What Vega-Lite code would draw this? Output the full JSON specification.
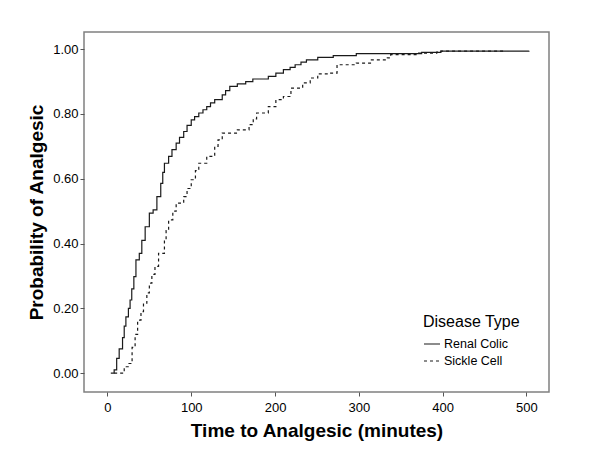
{
  "$schema": "https://vega.github.io/schema/vega-lite/v6.json",
  "width": 465,
  "height": 360,
  "autosize": {"type": "none"},
  "padding": {"left": 84, "top": 32, "right": 52, "bottom": 68},
  "background": "white",
  "config": {
    "font": "Liberation Sans",
    "view": {"stroke": "#808080", "strokeWidth": 1.5},
    "axis": {"domain": false, "grid": false, "tickColor": "#555", "tickSize": 4, "labelColor": "#000", "labelFontSize": 13, "titleColor": "#000", "titleFontSize": 19, "titleFontWeight": "bold"}
  },
  "data": {
    "values": [
      {"t": 4, "p": 0.0, "g": "Renal Colic"},
      {"t": 8, "p": 0.01, "g": "Renal Colic"},
      {"t": 11, "p": 0.046, "g": "Renal Colic"},
      {"t": 14, "p": 0.075, "g": "Renal Colic"},
      {"t": 18, "p": 0.11, "g": "Renal Colic"},
      {"t": 20, "p": 0.145, "g": "Renal Colic"},
      {"t": 22, "p": 0.174, "g": "Renal Colic"},
      {"t": 25, "p": 0.2, "g": "Renal Colic"},
      {"t": 27, "p": 0.226, "g": "Renal Colic"},
      {"t": 29, "p": 0.26, "g": "Renal Colic"},
      {"t": 31.5, "p": 0.298, "g": "Renal Colic"},
      {"t": 34, "p": 0.35, "g": "Renal Colic"},
      {"t": 38, "p": 0.37, "g": "Renal Colic"},
      {"t": 41, "p": 0.41, "g": "Renal Colic"},
      {"t": 45, "p": 0.452, "g": "Renal Colic"},
      {"t": 50, "p": 0.494, "g": "Renal Colic"},
      {"t": 54.5, "p": 0.504, "g": "Renal Colic"},
      {"t": 59, "p": 0.545, "g": "Renal Colic"},
      {"t": 63.6, "p": 0.586, "g": "Renal Colic"},
      {"t": 66, "p": 0.62, "g": "Renal Colic"},
      {"t": 68, "p": 0.648, "g": "Renal Colic"},
      {"t": 73, "p": 0.669, "g": "Renal Colic"},
      {"t": 77, "p": 0.69, "g": "Renal Colic"},
      {"t": 82, "p": 0.71, "g": "Renal Colic"},
      {"t": 86, "p": 0.728, "g": "Renal Colic"},
      {"t": 91, "p": 0.746, "g": "Renal Colic"},
      {"t": 95, "p": 0.765, "g": "Renal Colic"},
      {"t": 100, "p": 0.782, "g": "Renal Colic"},
      {"t": 104, "p": 0.792, "g": "Renal Colic"},
      {"t": 109, "p": 0.803, "g": "Renal Colic"},
      {"t": 114, "p": 0.813, "g": "Renal Colic"},
      {"t": 118.5, "p": 0.823, "g": "Renal Colic"},
      {"t": 123, "p": 0.834, "g": "Renal Colic"},
      {"t": 128, "p": 0.844, "g": "Renal Colic"},
      {"t": 137, "p": 0.859, "g": "Renal Colic"},
      {"t": 141, "p": 0.872, "g": "Renal Colic"},
      {"t": 146, "p": 0.885, "g": "Renal Colic"},
      {"t": 155, "p": 0.893, "g": "Renal Colic"},
      {"t": 165, "p": 0.9, "g": "Renal Colic"},
      {"t": 173.5, "p": 0.908, "g": "Renal Colic"},
      {"t": 192, "p": 0.916, "g": "Renal Colic"},
      {"t": 201, "p": 0.926, "g": "Renal Colic"},
      {"t": 210, "p": 0.937, "g": "Renal Colic"},
      {"t": 218, "p": 0.944, "g": "Renal Colic"},
      {"t": 224, "p": 0.952, "g": "Renal Colic"},
      {"t": 231, "p": 0.96, "g": "Renal Colic"},
      {"t": 237.5, "p": 0.967, "g": "Renal Colic"},
      {"t": 251, "p": 0.975, "g": "Renal Colic"},
      {"t": 269.5, "p": 0.98, "g": "Renal Colic"},
      {"t": 297, "p": 0.986, "g": "Renal Colic"},
      {"t": 375, "p": 0.99, "g": "Renal Colic"},
      {"t": 398, "p": 0.994, "g": "Renal Colic"},
      {"t": 503, "p": 0.995, "g": "Renal Colic"},
      {"t": 8, "p": 0.0, "g": "Sickle Cell"},
      {"t": 20, "p": 0.02, "g": "Sickle Cell"},
      {"t": 24.7, "p": 0.03, "g": "Sickle Cell"},
      {"t": 29.4, "p": 0.08, "g": "Sickle Cell"},
      {"t": 33, "p": 0.12, "g": "Sickle Cell"},
      {"t": 36, "p": 0.164, "g": "Sickle Cell"},
      {"t": 40, "p": 0.19, "g": "Sickle Cell"},
      {"t": 43, "p": 0.216, "g": "Sickle Cell"},
      {"t": 47, "p": 0.248, "g": "Sickle Cell"},
      {"t": 50, "p": 0.278, "g": "Sickle Cell"},
      {"t": 53, "p": 0.305, "g": "Sickle Cell"},
      {"t": 56.7, "p": 0.33, "g": "Sickle Cell"},
      {"t": 61, "p": 0.37, "g": "Sickle Cell"},
      {"t": 68, "p": 0.41, "g": "Sickle Cell"},
      {"t": 70, "p": 0.44, "g": "Sickle Cell"},
      {"t": 73, "p": 0.473, "g": "Sickle Cell"},
      {"t": 78, "p": 0.5, "g": "Sickle Cell"},
      {"t": 82, "p": 0.525, "g": "Sickle Cell"},
      {"t": 91, "p": 0.545, "g": "Sickle Cell"},
      {"t": 95, "p": 0.57, "g": "Sickle Cell"},
      {"t": 100, "p": 0.597, "g": "Sickle Cell"},
      {"t": 105, "p": 0.625, "g": "Sickle Cell"},
      {"t": 109, "p": 0.648, "g": "Sickle Cell"},
      {"t": 118.5, "p": 0.669, "g": "Sickle Cell"},
      {"t": 128, "p": 0.7, "g": "Sickle Cell"},
      {"t": 132, "p": 0.72, "g": "Sickle Cell"},
      {"t": 137, "p": 0.741, "g": "Sickle Cell"},
      {"t": 155, "p": 0.751, "g": "Sickle Cell"},
      {"t": 169, "p": 0.767, "g": "Sickle Cell"},
      {"t": 174, "p": 0.785, "g": "Sickle Cell"},
      {"t": 178, "p": 0.803, "g": "Sickle Cell"},
      {"t": 192, "p": 0.823, "g": "Sickle Cell"},
      {"t": 201, "p": 0.844, "g": "Sickle Cell"},
      {"t": 210, "p": 0.854, "g": "Sickle Cell"},
      {"t": 219, "p": 0.88, "g": "Sickle Cell"},
      {"t": 233, "p": 0.896, "g": "Sickle Cell"},
      {"t": 242, "p": 0.911, "g": "Sickle Cell"},
      {"t": 251, "p": 0.924, "g": "Sickle Cell"},
      {"t": 265, "p": 0.926, "g": "Sickle Cell"},
      {"t": 274, "p": 0.952, "g": "Sickle Cell"},
      {"t": 297, "p": 0.957, "g": "Sickle Cell"},
      {"t": 315, "p": 0.967, "g": "Sickle Cell"},
      {"t": 334, "p": 0.973, "g": "Sickle Cell"},
      {"t": 338, "p": 0.983, "g": "Sickle Cell"},
      {"t": 370, "p": 0.988, "g": "Sickle Cell"},
      {"t": 393, "p": 0.991, "g": "Sickle Cell"},
      {"t": 398, "p": 0.994, "g": "Sickle Cell"},
      {"t": 475, "p": 0.996, "g": "Sickle Cell"}
    ]
  },
  "mark": {"type": "line", "interpolate": "step-after", "strokeWidth": 1.2, "color": "#1a1a1a"},
  "encoding": {
    "x": {
      "field": "t", "type": "quantitative",
      "scale": {"domain": [-28, 527], "nice": false, "zero": false},
      "axis": {"values": [0, 100, 200, 300, 400, 500], "title": "Time to Analgesic (minutes)", "titlePadding": 7, "labelPadding": 5}
    },
    "y": {
      "field": "p", "type": "quantitative",
      "scale": {"domain": [-0.058, 1.053], "nice": false, "zero": false},
      "axis": {"values": [0, 0.2, 0.4, 0.6, 0.8, 1.0], "format": ".2f", "title": "Probability of Analgesic", "titlePadding": 6, "labelPadding": 2}
    },
    "strokeDash": {
      "field": "g", "type": "nominal",
      "scale": {"domain": ["Renal Colic", "Sickle Cell"], "range": [[1, 0], [3, 3]]},
      "legend": {
        "title": "Disease Type",
        "orient": "none",
        "legendX": 339,
        "legendY": 282,
        "titleFontSize": 16,
        "titleFontWeight": "normal",
        "titleColor": "#000",
        "titlePadding": 5,
        "labelFontSize": 12.5,
        "labelColor": "#000",
        "labelOffset": 3,
        "symbolType": "stroke",
        "symbolSize": 256,
        "symbolStrokeColor": "#1a1a1a",
        "symbolStrokeWidth": 1.2,
        "rowPadding": 1
      }
    }
  }
}
